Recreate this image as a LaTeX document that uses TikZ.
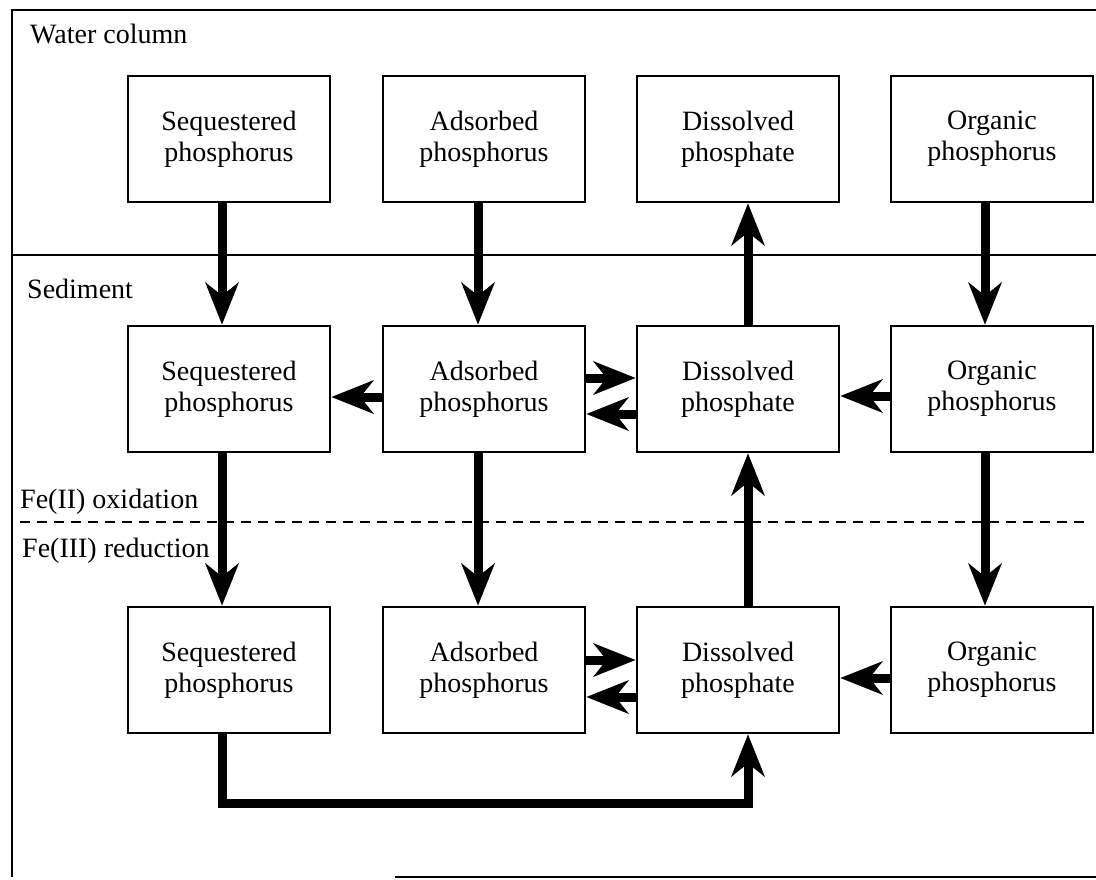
\documentclass[tikz,border=0pt]{standalone}
\usepackage{fontspec}
\setmainfont{Liberation Serif}
\usetikzlibrary{arrows.meta}
\begin{document}
\begin{tikzpicture}[x=1pt, y=-1pt,
    font=\fontsize{28}{31}\selectfont,
    pool/.style={draw, line width=2.6pt, minimum width=202pt, minimum height=126pt, align=center, inner sep=0pt},
    flow/.style={line width=9pt, -{Stealth[length=42pt,width=33pt,inset=13pt]}},
    zone/.style={anchor=base west, inner sep=0pt}]
    \useasboundingbox (0,0) rectangle (1096,879);

    % Frame and layer boundaries (right edge lies outside the crop)
    \draw[line width=2.4pt] (395,877) -- (1096,877);
    \draw[line width=2.4pt] (1096,10) -- (12,10) -- (12,877);
    \draw[line width=2.6pt] (12,255) -- (1096,255);
    \draw[line width=2.2pt, dash pattern=on 10pt off 7pt] (20,522) -- (1088,522);

    % Layer labels
    \node[zone] (water) at (30,43) {Water column};
    \node[zone] (sed) at (27,298) {Sediment};
    \node[zone] (ox) at (20,508) {Fe(II) oxidation};
    \node[zone] (red) at (22,557) {Fe(III) reduction};

    % Water column pools
    \node[pool] (S1) at (229,139) {Sequestered\\phosphorus};
    \node[pool] (A1) at (484,139) {Adsorbed\\phosphorus};
    \node[pool] (D1) at (738,139) {Dissolved\\phosphate};
    \node[pool] (O1) at (992,139) {Organic\\phosphorus};

    % Oxic sediment pools
    \node[pool] (S2) at (229,389) {Sequestered\\phosphorus};
    \node[pool] (A2) at (484,389) {Adsorbed\\phosphorus};
    \node[pool] (D2) at (738,389) {Dissolved\\phosphate};
    \node[pool] (O2) at (992,389) {Organic\\phosphorus};

    % Reduced sediment pools
    \node[pool] (S3) at (229,670) {Sequestered\\phosphorus};
    \node[pool] (A3) at (484,670) {Adsorbed\\phosphorus};
    \node[pool] (D3) at (738,670) {Dissolved\\phosphate};
    \node[pool] (O3) at (992,670) {Organic\\phosphorus};

    % Vertical transfers
    \draw[flow] ([xshift=-7pt]S1.south) -- ([xshift=-7pt]S2.north);
    \draw[flow] ([xshift=-6pt]A1.south) -- ([xshift=-6pt]A2.north);
    \draw[flow] ([xshift=10pt]D2.north) -- ([xshift=10pt]D1.south);
    \draw[flow] ([xshift=-7pt]O1.south) -- ([xshift=-7pt]O2.north);
    \draw[flow] ([xshift=-7pt]S2.south) -- ([xshift=-7pt]S3.north);
    \draw[flow] ([xshift=-6pt]A2.south) -- ([xshift=-6pt]A3.north);
    \draw[flow] ([xshift=10pt]D3.north) -- ([xshift=10pt]D2.south);
    \draw[flow] ([xshift=-7pt]O2.south) -- ([xshift=-7pt]O3.north);

    % Horizontal exchanges
    \draw[flow] ([yshift=-8pt]A2.west) -- ([yshift=-8pt]S2.east);
    \draw[flow] ([yshift=11pt]A2.east) -- ([yshift=11pt]D2.west);
    \draw[flow] ([yshift=-25pt]D2.west) -- ([yshift=-25pt]A2.east);
    \draw[flow] ([yshift=-7pt]O2.west) -- ([yshift=-7pt]D2.east);
    \draw[flow] ([yshift=10pt]A3.east) -- ([yshift=10pt]D3.west);
    \draw[flow] ([yshift=-27pt]D3.west) -- ([yshift=-27pt]A3.east);
    \draw[flow] ([yshift=-8pt]O3.west) -- ([yshift=-8pt]D3.east);

    % Release from sequestered pool
    \coordinate (bend) at (222,803);
    \draw[flow] ([xshift=-7pt]S3.south) -- (bend) -| ([xshift=10pt]D3.south);
\end{tikzpicture}
\end{document}
